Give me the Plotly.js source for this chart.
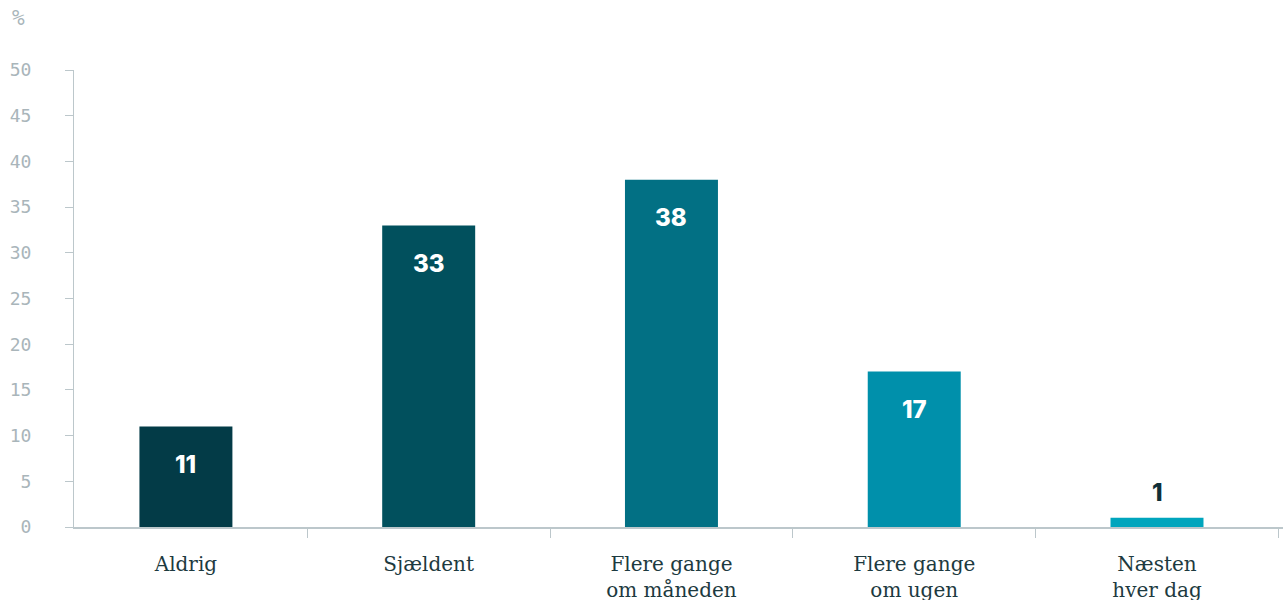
<!DOCTYPE html>
<html>
<head>
<meta charset="utf-8">
<script src="https://cdn.plot.ly/plotly-3.0.1.min.js"></script>
<style>html,body{margin:0;padding:0;background:#fff;}#chart{width:1288px;height:600px;}</style>
</head>
<body>
<div id="chart"></div>
<script>
const categories = ["Aldrig", "Sjældent", "Flere gange om måneden", "Flere gange om ugen", "Næsten hver dag"];
const tickLabels = ["Aldrig", "Sjældent", "Flere gange<br>om måneden", "Flere gange<br>om ugen", "Næsten<br>hver dag"];
const values = [11, 33, 38, 17, 1];
const barColors = ["#033b47", "#01505d", "#027084", "#0090ab", "#00a5bd"];
const labelInside = [true, true, true, true, false];

const axisGray = "#bcc7cb";
const annotations = values.map((v, i) => ({
  x: categories[i], y: v, xref: "x", yref: "y",
  text: String(v), showarrow: false,
  yanchor: "middle",
  yshift: labelInside[i] ? -38 : 25,
  font: {family: "Inter, Roboto, sans-serif", size: 24, weight: 800, color: labelInside[i] ? "#ffffff" : "#0f2f38"}
}));
annotations.push({
  xref: "paper", yref: "paper", x: -0.0463, y: 1.1138, xanchor: "center", yanchor: "middle",
  text: "%", showarrow: false,
  font: {family: "DejaVu Sans Mono, monospace", size: 21, color: "#a9b5ba"}
});

Plotly.newPlot("chart", [{
  type: "bar",
  x: categories,
  y: values,
  marker: {color: barColors},
  hoverinfo: "none"
}], {
  width: 1288, height: 600,
  margin: {l: 74, r: 5, t: 70, b: 73},
  paper_bgcolor: "#ffffff", plot_bgcolor: "#ffffff",
  bargap: 0.617,
  showlegend: false,
  xaxis: {
    type: "category",
    range: [-0.461, 4.519],
    tickmode: "array", tickvals: categories, ticktext: tickLabels,
    tickson: "boundaries",
    ticks: "outside", ticklen: 9, tickcolor: axisGray, tickwidth: 1,
    showline: true, linecolor: axisGray, linewidth: 1.5,
    showgrid: false, zeroline: false,
    ticklabelstandoff: 18,
    tickfont: {family: "DejaVu Serif, serif", size: 20, color: "#1d3a40"}
  },
  yaxis: {
    range: [0, 50], dtick: 5, tick0: 0,
    ticks: "outside", ticklen: 8, tickcolor: axisGray, tickwidth: 1,
    showline: true, linecolor: axisGray, linewidth: 1,
    showgrid: false, zeroline: false,
    ticklabelstandoff: 30,
    tickfont: {family: "DejaVu Sans Mono, monospace", size: 18, color: "#a9b5ba"}
  },
  annotations: annotations
}, {displayModeBar: false, staticPlot: true});
</script>
</body>
</html>
